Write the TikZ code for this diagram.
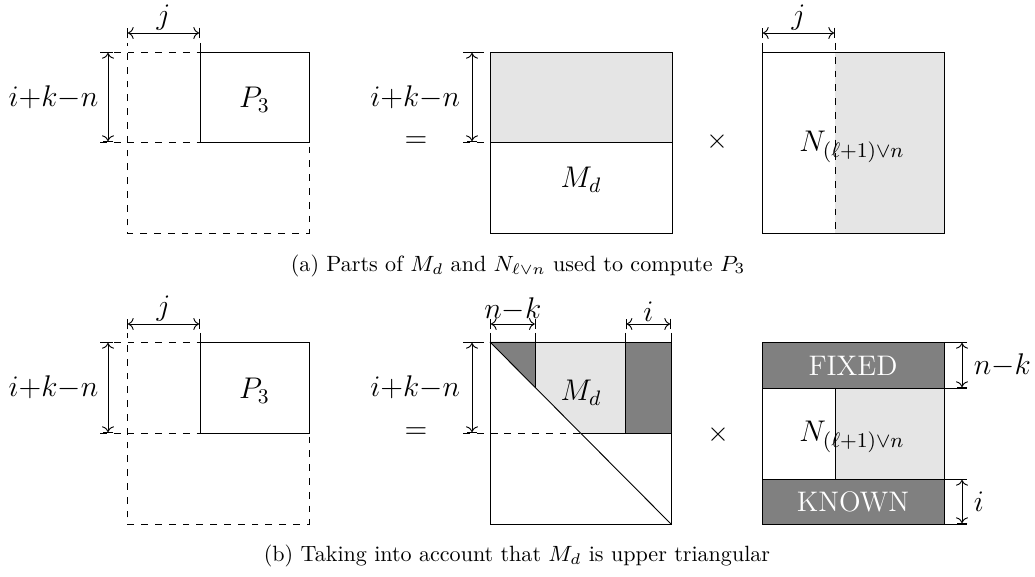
\RequirePackage{fix-cm}
\documentclass[tikz,border=0pt]{standalone}
\usetikzlibrary{arrows.meta}
\begin{document}
\begin{tikzpicture}[x=0.4348pt,y=-0.4348pt,
  dsh/.style={dashed},
  dimline/.style={|<->|},
  lbl/.style={font=\fontsize{13}{16}\selectfont, inner sep=0pt},
  oplbl/.style={font=\fontsize{12}{15}\selectfont, inner sep=0pt},
  boxtext/.style={font=\fontsize{12.3}{15}\selectfont, text=white, inner sep=0pt},
  captext/.style={font=\fontsize{9.6}{12}\selectfont, inner sep=0pt},
  light/.style={fill=black!10},
  dark/.style={fill=black!50}]
\useasboundingbox (0,0) rectangle (1035,577);

% ================= (a) =================
% left: P3
\draw[dsh] (100,52) -- (309,52) -- (309,233) -- (127,233) -- (127,43);
\draw[dsh] (100,142) -- (200,142);
\draw (200,43) -- (200,142) -- (309,142) -- (309,52) -- (200,52);
\node[lbl] (p3a) at (254.5,100) {$P_3$};
\coordinate (ja1) at (127,33); \coordinate (ja2) at (200,33);
\draw[dimline] (ja1) -- (ja2) node[lbl, midway, above=1pt] (jla) {$j$};
\coordinate (ha1) at (108,52); \coordinate (ha2) at (108,142);
\draw[dimline] (ha1) -- (ha2) node[lbl, midway, left=4pt] (hla) {$i{+}k{-}n$};

\node[lbl] (eqa) at (416,142) {$=$};

% middle: Md
\fill[light] (490,52) rectangle (672,142);
\draw (490,52) rectangle (672,233);
\draw (490,142) -- (672,142);
\draw[dsh] (463,52) -- (490,52);
\draw[dsh] (463,142) -- (490,142);
\coordinate (hb1) at (472,52); \coordinate (hb2) at (472,142);
\draw[dimline] (hb1) -- (hb2) node[lbl, midway, left=5pt] (hlb) {$i{+}k{-}n$};
\node[lbl] (mda) at (581,180) {$M_d$};

\node[oplbl] (timesa) at (717,142) {$\times$};

% right: N
\fill[light] (835,52) rectangle (944,233);
\draw (762,52) rectangle (944,233);
\draw (762,43) -- (762,52);
\draw[dsh] (835,43) -- (835,233);
\coordinate (jb1) at (762,33); \coordinate (jb2) at (835,33);
\draw[dimline] (jb1) -- (jb2) node[lbl, midway, above=1pt] (jlb) {$j$};
\node[lbl] (na) at (852,147) {$N_{(\ell+1)\vee n}$};

\node[captext] (capa) at (518,266) {(a) Parts of $M_d$ and $N_{\ell\vee n}$ used to compute $P_3$};

% ================= (b) =================
% left: P3
\draw[dsh] (100,342) -- (309,342) -- (309,524) -- (127,524) -- (127,333);
\draw[dsh] (100,433) -- (200,433);
\draw (200,333) -- (200,433) -- (309,433) -- (309,342) -- (200,342);
\node[lbl] (p3b) at (254.5,391) {$P_3$};
\coordinate (jc1) at (127,324); \coordinate (jc2) at (200,324);
\draw[dimline] (jc1) -- (jc2) node[lbl, midway, above=1pt] (jlc) {$j$};
\coordinate (hc1) at (108,342); \coordinate (hc2) at (108,433);
\draw[dimline] (hc1) -- (hc2) node[lbl, midway, left=4pt] (hlc) {$i{+}k{-}n$};

\node[lbl] (eqb) at (416,433) {$=$};

% middle: Md upper triangular
\fill[light] (535.7,342) -- (625.7,342) -- (625.7,433) -- (581,433) -- (535.7,388) -- cycle;
\fill[dark] (490,342) -- (535.7,342) -- (535.7,388) -- cycle;
\fill[dark] (625.7,342) rectangle (671,433);
\draw (490,342) rectangle (671,524);
\draw (490,342) -- (671,524);
\draw (490,333) -- (490,342);
\draw (671,333) -- (671,342);
\draw (535.7,333) -- (535.7,388);
\draw (625.7,333) -- (625.7,433);
\draw (581,433) -- (671,433);
\draw[dsh] (463,342) -- (490,342);
\draw[dsh] (463,433) -- (581,433);
\coordinate (hd1) at (472,342); \coordinate (hd2) at (472,433);
\draw[dimline] (hd1) -- (hd2) node[lbl, midway, left=5pt] (hld) {$i{+}k{-}n$};
\coordinate (nk1) at (490,324); \coordinate (nk2) at (535.7,324);
\draw[dimline] (nk1) -- (nk2) node[lbl, midway, above=1pt] (nkl) {$n{-}k$};
\coordinate (ii1) at (625.7,324); \coordinate (ii2) at (671,324);
\draw[dimline] (ii1) -- (ii2) node[lbl, midway, above=1pt] (iil) {$i$};
\node[lbl] (mdb) at (581,393) {$M_d$};

\node[oplbl] (timesb) at (718,435) {$\times$};

% right: N with FIXED / KNOWN
\fill[dark] (762,342) rectangle (944,388);
\fill[dark] (762,479) rectangle (944,524);
\fill[light] (835,388) rectangle (944,479);
\draw (762,342) rectangle (944,524);
\draw (762,388) -- (944,388);
\draw (762,479) -- (944,479);
\draw (835,388) -- (835,479);
\draw (944,342) -- (967,342);
\draw (944,388) -- (967,388);
\draw (944,479) -- (967,479);
\draw (944,524) -- (967,524);
\coordinate (re1) at (962,342); \coordinate (re2) at (962,388);
\draw[dimline] (re1) -- (re2) node[lbl, midway, right=5pt] (rel) {$n{-}k$};
\coordinate (rf1) at (962,479); \coordinate (rf2) at (962,524);
\draw[dimline] (rf1) -- (rf2) node[lbl, midway, right=5pt] (rfl) {$i$};
\node[boxtext] (fixed) at (853,366) {FIXED};
\node[boxtext] (known) at (853,502) {KNOWN};
\node[lbl] (nb) at (852,437) {$N_{(\ell+1)\vee n}$};

\node[captext] (capb) at (517,556) {(b) Taking into account that $M_d$ is upper triangular};
\end{tikzpicture}
\end{document}
